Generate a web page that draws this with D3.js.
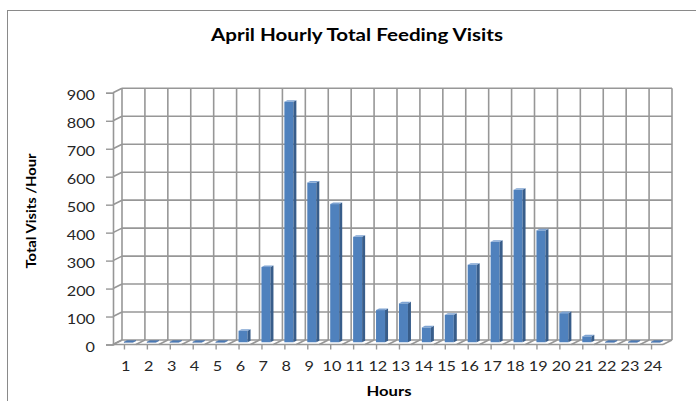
<!DOCTYPE html>
<html>
<head>
<meta charset="utf-8">
<script src="https://cdn.jsdelivr.net/npm/d3@7"></script>
<style>
  html, body { margin: 0; padding: 0; background: #fff; }
  svg { display: block; }
</style>
</head>
<body>
<svg id="chart" width="696" height="401"></svg>
<script>
// ---- data ----
const hours = ["1","2","3","4","5","6","7","8","9","10","11","12","13","14","15","16","17","18","19","20","21","22","23","24"];
const visits = [0,0,0,0,0,41,269,860,571,494,377,115,139,53,98,277,359,545,400,104,21,0,0,0];
const yTicks = [0,100,200,300,400,500,600,700,800,900];
const chartTitle = "April Hourly Total Feeding Visits";
const xTitle = "Hours";
const yTitle = "Total Visits /Hour";

// ---- layout ----
const svg = d3.select("#chart");
const backL = 122, backR = 672;
const depthX = -9, depthY = 4.5;           // offset from back wall to front edge
const gridColor = "#979797";
const font = "Lato, 'Open Sans', sans-serif";
const stretch = 1.3;

const xBack = d3.scaleBand().domain(hours).range([backL, backR]).padding(0);
const yBack = d3.scaleLinear().domain([0, 900]).range([340, 88.3]);
const yFront = yBack.copy().range(yBack.range().map(v => v + depthY));
const xFront = xBack.copy().range([backL + depthX, backR + depthX]);

// outer border
svg.append("rect").attr("x", 7.5).attr("y", 10.5).attr("width", 700).attr("height", 400)
  .attr("fill", "#fff").attr("stroke", "#8a8a8a").attr("stroke-width", 1);

const grid = svg.append("g").attr("stroke", gridColor).attr("stroke-width", 1.6).attr("fill", "none");

// back wall horizontal gridlines
grid.selectAll("line.h").data(yTicks).join("line").attr("class", "h")
  .attr("x1", backL).attr("x2", backR)
  .attr("y1", d => yBack(d)).attr("y2", d => yBack(d));

// back wall vertical gridlines
const bounds = hours.map(h => xBack(h)).concat([backR]);
grid.selectAll("line.v").data(bounds).join("line").attr("class", "v")
  .attr("x1", d => d).attr("x2", d => d)
  .attr("y1", yBack(900)).attr("y2", yBack(0));

// left wall: diagonals from front axis to back wall
grid.selectAll("line.lw").data(yTicks).join("line").attr("class", "lw")
  .attr("x1", backL + depthX).attr("y1", d => yFront(d))
  .attr("x2", backL).attr("y2", d => yBack(d));

// floor
grid.append("line").attr("x1", backL + depthX).attr("x2", backR + depthX)
  .attr("y1", yFront(0)).attr("y2", yFront(0));
grid.selectAll("line.fl").data(bounds).join("line").attr("class", "fl")
  .attr("x1", d => d + depthX).attr("y1", yFront(0))
  .attr("x2", d => d).attr("y2", yBack(0));

// ---- bars (3D columns at mid depth) ----
const faceW = 9, sideW = 3, topH = 1.6;
const midDY = depthY / 2;
const base = yBack(0) + midDY;
const barH = v => yBack(0) - yBack(v);

const bars = svg.append("g").selectAll("g.bar").data(hours.map((h, i) => ({h, v: visits[i]}))).join("g").attr("class", "bar");
bars.each(function(d) {
  const g = d3.select(this);
  const cx = xBack(d.h) + xBack.bandwidth() / 2;
  const left = cx - 9.5;
  const right = left + faceW;
  const top = base - barH(d.v);
  if (d.v > 0) {
    g.append("rect").attr("x", left).attr("y", top).attr("width", faceW).attr("height", base - top)
      .attr("fill", "#4F81BD");
    g.append("path").attr("d", `M${right},${top}L${right + sideW},${top - topH}L${right + sideW},${base - topH}L${right},${base}Z`)
      .attr("fill", "#385D8A");
    g.append("path").attr("d", `M${left},${top}L${right},${top}L${right + sideW},${top - topH}L${left + sideW},${top - topH}Z`)
      .attr("fill", "#7EA3D2");
  } else {
    g.append("path").attr("d", `M${left},${base}L${right},${base}L${right + sideW},${base - topH}L${left + sideW},${base - topH}Z`)
      .attr("fill", "#4F81BD").attr("stroke", "#3A66A0").attr("stroke-width", 0.6);
  }
});

// ---- axes ----
const yAxis = d3.axisLeft(yFront).tickValues(yTicks).tickSize(7).tickPadding(0).tickFormat(d3.format("d"));
const gy = svg.append("g").attr("transform", `translate(${backL + depthX},0)`).call(yAxis);
gy.select(".domain").attr("stroke", gridColor).attr("stroke-width", 1.6);
gy.selectAll(".tick line").attr("stroke", gridColor).attr("stroke-width", 1.4);
gy.selectAll(".tick text")
  .attr("x", -18 / stretch).attr("y", 2.5).attr("dy", "0.32em")
  .attr("transform", `scale(${stretch},1)`)
  .attr("font-family", font).attr("font-size", 12.5).attr("fill", "#262626");

const xAxis = d3.axisBottom(xFront).tickSize(5).tickSizeOuter(0);
const gx = svg.append("g").attr("transform", `translate(0,${yFront(0)})`).call(xAxis);
gx.select(".domain").remove();
gx.selectAll(".tick line").attr("stroke", gridColor).attr("stroke-width", 1.4);
gx.selectAll(".tick text")
  .attr("x", 1).attr("y", 26.5).attr("dy", 0)
  .attr("transform", `scale(${stretch},1)`)
  .attr("font-family", font).attr("font-size", 12.5).attr("fill", "#262626");

// ---- titles ----
svg.append("text").attr("x", 357).attr("y", 41).attr("text-anchor", "middle")
  .attr("font-family", font).attr("font-weight", "bold").attr("font-size", 16.5)
  .attr("textLength", 292).attr("lengthAdjust", "spacingAndGlyphs")
  .text(chartTitle);

svg.append("text").attr("x", 389).attr("y", 395.5).attr("text-anchor", "middle")
  .attr("font-family", font).attr("font-weight", "bold").attr("font-size", 13.5)
  .attr("textLength", 45).attr("lengthAdjust", "spacingAndGlyphs")
  .text(xTitle);

svg.append("text").attr("transform", "translate(36,211) rotate(-90)").attr("text-anchor", "middle")
  .attr("font-family", font).attr("font-weight", "bold").attr("font-size", 14)
  .attr("textLength", 115).attr("lengthAdjust", "spacingAndGlyphs")
  .text(yTitle);
</script>
</body>
</html>
